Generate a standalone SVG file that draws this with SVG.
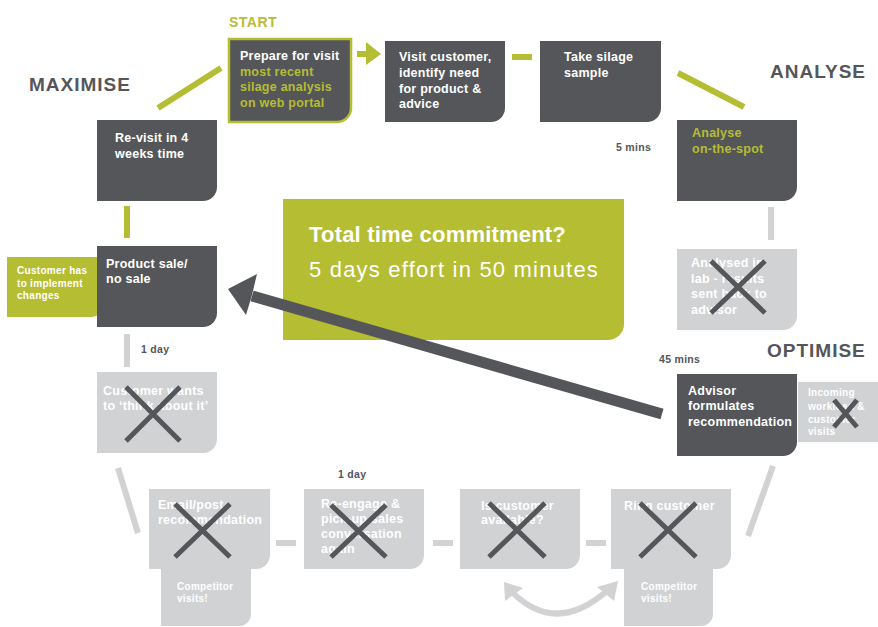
<svg xmlns="http://www.w3.org/2000/svg" width="878" height="627" viewBox="0 0 878 627">
<style>
.dk{fill:#55565a}
.lt{fill:#d1d2d4}
.gr{fill:#b5bd33}
text{font-family:"Liberation Sans",Arial,sans-serif;font-weight:bold}
.t{font-size:12.5px;fill:#fff;letter-spacing:0.25px}
.tg{font-size:12.5px;fill:#b5bd33;letter-spacing:0.25px}
.s{font-size:10px;fill:#fff;letter-spacing:0.3px}
.m{font-size:10.5px;fill:#55565a;letter-spacing:0.3px}
.h{font-size:19px;fill:#55565a;letter-spacing:1px}
.x{stroke:#55565a;stroke-width:5;fill:none}
.cg{stroke:#b5bd33;stroke-width:6;fill:none}
.cl{stroke:#d1d2d4;stroke-width:6;fill:none}
</style>
<rect width="878" height="627" fill="#fff"/>
<text x="229" y="27" style="font-size:14px;fill:#b5bd33;letter-spacing:0.5px">START</text>
<text class="h" x="29" y="91">MAXIMISE</text>
<text class="h" x="770" y="78">ANALYSE</text>
<text class="h" x="767" y="357">OPTIMISE</text>

<g id="total">
<path class="gr" d="M283 199H624V324A16 16 0 0 1 608 340H283Z"/>
<text x="309" y="242" style="font-size:22px;fill:#fff;letter-spacing:0.2px">Total time commitment?</text>
<text x="309" y="277" style="font-size:22px;fill:#fff;font-weight:normal;letter-spacing:1.2px">5 days effort in 50 minutes</text>
</g>

<g id="prepare">
<path class="dk" d="M229 39H351V108A14 14 0 0 1 337 122H229Z" stroke="#b5bd33" stroke-width="2.5"/>
<text class="t" x="240" y="60">Prepare for visit</text>
<text class="tg" x="240" y="76">most recent</text>
<text class="tg" x="240" y="91">silage analysis</text>
<text class="tg" x="240" y="107">on web portal</text>
</g>
<g id="visit">
<path class="dk" d="M385 41H505V108A14 14 0 0 1 491 122H385Z"/>
<text class="t" x="399" y="61">Visit customer,</text>
<text class="t" x="399" y="77">identify need</text>
<text class="t" x="399" y="93">for product &amp;</text>
<text class="t" x="399" y="108">advice</text>
</g>
<g id="take">
<path class="dk" d="M540 41H661V108A14 14 0 0 1 647 122H540Z"/>
<text class="t" x="564" y="61">Take silage</text>
<text class="t" x="564" y="77">sample</text>
</g>
<g id="analyse">
<path class="dk" d="M677 120H797V187A14 14 0 0 1 783 201H677Z"/>
<text class="tg" x="692" y="137">Analyse</text>
<text class="tg" x="692" y="153">on-the-spot</text>
</g>
<text class="m" x="616" y="151">5 mins</text>
<g id="revisit">
<path class="dk" d="M97 120H217V187A14 14 0 0 1 203 201H97Z"/>
<text class="t" x="115" y="142">Re-visit in 4</text>
<text class="t" x="115" y="158">weeks time</text>
</g>
<g id="custhas">
<path class="gr" d="M7 257H102V307A10 10 0 0 1 92 317H7Z"/>
<text class="s" x="17" y="274">Customer has</text>
<text class="s" x="17" y="287">to implement</text>
<text class="s" x="17" y="299">changes</text>
</g>
<g id="product">
<path class="dk" d="M97 246H217V313A14 14 0 0 1 203 327H97Z"/>
<text class="t" x="106" y="268">Product sale/</text>
<text class="t" x="106" y="283">no sale</text>
</g>
<text class="m" x="141" y="353">1 day</text>
<g id="custwants">
<path class="lt" d="M97 372H217V439A14 14 0 0 1 203 453H97Z"/>
<text class="t" x="103" y="395">Customer wants</text>
<text class="t" x="103" y="410">to ‘think about it’</text>
<path class="x" d="M126 387L180 441M180 387L126 441"/>
</g>
<g id="lab">
<path class="lt" d="M677 249H797V316A14 14 0 0 1 783 330H677Z"/>
<text class="t" x="691" y="267">Analysed in</text>
<text class="t" x="691" y="283">lab - results</text>
<text class="t" x="691" y="298">sent back to</text>
<text class="t" x="691" y="314">advisor</text>
<path class="x" d="M711 261L765 313M765 261L711 313"/>
</g>
<text class="m" x="659" y="363">45 mins</text>
<g id="incoming">
<rect class="lt" x="798" y="382" width="80" height="60"/>
<text class="s" x="808" y="396">Incoming</text>
<text class="s" x="808" y="410">workload &amp;</text>
<text class="s" x="808" y="423">customer</text>
<text class="s" x="808" y="435">visits</text>
<path class="x" d="M834 400L857 427M857 400L834 427"/>
</g>
<g id="advisor">
<path class="dk" d="M677 374H797V442A14 14 0 0 1 783 456H677Z"/>
<text class="t" x="688" y="395">Advisor</text>
<text class="t" x="688" y="410">formulates</text>
<text class="t" x="688" y="426">recommendation</text>
</g>
<g id="comp1">
<path class="lt" d="M161 560H251V614A12 12 0 0 1 239 626H161Z"/>
<text class="s" x="177" y="590">Competitor</text>
<text class="s" x="177" y="602">visits!</text>
</g>
<g id="email">
<path class="lt" d="M149 489H270V555A14 14 0 0 1 256 569H149Z"/>
<text class="t" x="158" y="509">Email/post</text>
<text class="t" x="158" y="524">recommendation</text>
<path class="x" d="M175 504L230 557M230 504L175 557"/>
</g>
<text class="m" x="338" y="478">1 day</text>
<g id="reengage">
<path class="lt" d="M304 489H424V555A14 14 0 0 1 410 569H304Z"/>
<text class="t" x="321" y="508">Re-engage &amp;</text>
<text class="t" x="321" y="523">pick-up sales</text>
<text class="t" x="321" y="538">conversation</text>
<text class="t" x="321" y="553">again</text>
<path class="x" d="M331 505L386 557M386 505L331 557"/>
</g>
<g id="iscust">
<path class="lt" d="M460 489H580V555A14 14 0 0 1 566 569H460Z"/>
<text class="t" x="481" y="510">Is customer</text>
<text class="t" x="481" y="524">available?</text>
<path class="x" d="M489 503L545 557M545 503L489 557"/>
</g>
<g id="comp2">
<path class="lt" d="M624 560H713V614A12 12 0 0 1 701 626H624Z"/>
<text class="s" x="641" y="590">Competitor</text>
<text class="s" x="641" y="602">visits!</text>
</g>
<g id="ring">
<path class="lt" d="M611 489H731V555A14 14 0 0 1 717 569H611Z"/>
<text class="t" x="624" y="510">Ring customer</text>
<path class="x" d="M640 503L696 557M696 503L640 557"/>
</g>

<g id="connectors">
<path class="cg" d="M158 108L221 68"/>
<path class="cg" d="M357 54H367"/>
<polygon class="gr" points="366,42 381,54 366,65"/>
<path class="cg" d="M512 57H532" stroke-width="5"/>
<path class="cg" d="M678 73L744 107"/>
<path class="cg" d="M127 206V238" stroke-width="5"/>
<path class="cl" d="M771 207V240" stroke-width="5"/>
<path class="cl" d="M127 334V367" stroke-width="5"/>
<path class="cl" d="M118 468L138 533" stroke-width="5"/>
<path class="cl" d="M773 466L748 536" stroke-width="5"/>
<path class="cl" d="M276 543H296" stroke-width="5"/>
<path class="cl" d="M433 543H453" stroke-width="5"/>
<path class="cl" d="M586 543H606" stroke-width="5"/>
<path class="cl" d="M512 592Q556 636 608 590" stroke-width="5"/>
<polygon class="lt" points="504,582 505,601 523,588"/>
<polygon class="lt" points="618,581 597,587 614,601"/>
<path d="M252 296L662 414" stroke="#55565a" stroke-width="11" fill="none"/>
<polygon class="dk" points="228,289 257,274 252,295 246,315"/>
</g>
</svg>
